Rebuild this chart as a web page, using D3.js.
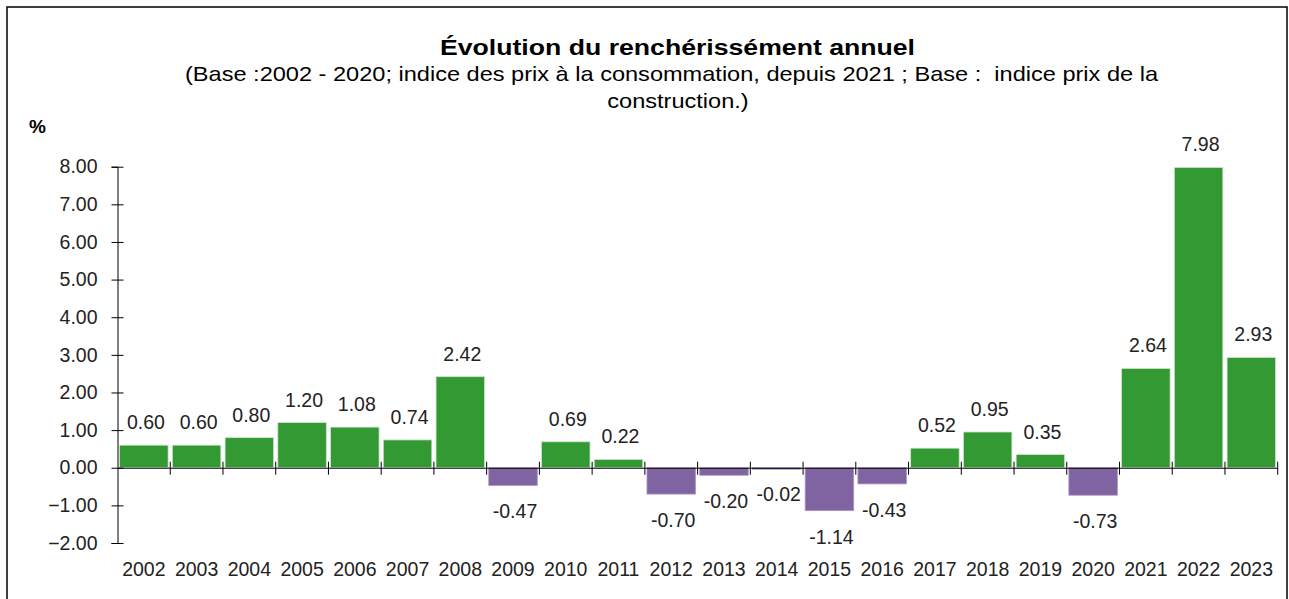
<!DOCTYPE html>
<html><head><meta charset="utf-8">
<script src="https://cdn.jsdelivr.net/npm/d3@7"></script>
<style>body{margin:0;background:#fff}svg{display:block}text{font-family:"Liberation Sans",Arial,sans-serif}</style>
</head><body><svg id="c" width="1289" height="599"></svg>
<script>
const years = ["2002","2003","2004","2005","2006","2007","2008","2009","2010","2011","2012","2013","2014","2015","2016","2017","2018","2019","2020","2021","2022","2023"];
const values = [0.60,0.60,0.80,1.20,1.08,0.74,2.42,-0.47,0.69,0.22,-0.70,-0.20,-0.02,-1.14,-0.43,0.52,0.95,0.35,-0.73,2.64,7.98,2.93];
const yTicks = [-2,-1,0,1,2,3,4,5,6,7,8];
const title = "Évolution du renchérissément annuel";
const subtitle = ["(Base :2002 - 2020; indice des prix à la consommation, depuis 2021 ; Base :  indice prix de la","construction.)"];

const svg = d3.select("#c");
svg.append("rect").attr("x",7).attr("y",7).attr("width",1280).attr("height",620)
  .attr("fill","#fff").attr("stroke","#000").attr("stroke-width",1.5);

const x0 = 117.5, x1 = 1277.7;
const x = d3.scaleBand().domain(years).range([x0,x1]).paddingInner(0.08).paddingOuter(0.04);
const y = d3.scaleLinear().domain([-2,8]).range([543,166.7]);
const txt = "#222";

svg.append("text").attr("x",677.5).attr("y",55).attr("text-anchor","middle")
  .attr("font-weight","bold").attr("font-size",22.5).attr("fill","#000")
  .attr("textLength",475).attr("lengthAdjust","spacingAndGlyphs").text(title);
const sub1 = svg.append("text").attr("x",671.5).attr("y",81).attr("text-anchor","middle")
  .attr("font-size",21).attr("fill","#000").attr("xml:space","preserve").text(subtitle[0]);
const nat = sub1.node().getComputedTextLength();
const k = 973/nat;
sub1.attr("textLength",973).attr("lengthAdjust","spacingAndGlyphs");
const sub2 = svg.append("text").attr("x",678).attr("y",108).attr("text-anchor","middle")
  .attr("font-size",21).attr("fill","#000").text(subtitle[1]);
sub2.attr("textLength",sub2.node().getComputedTextLength()*k).attr("lengthAdjust","spacingAndGlyphs");
svg.append("text").attr("x",29).attr("y",133).attr("font-weight","bold").attr("font-size",19).attr("fill","#000").text("%");

// bars
svg.selectAll(".bar").data(years).join("rect")
  .attr("x",d=>x(d)).attr("width",x.bandwidth())
  .attr("y",(d,i)=>y(Math.max(0,values[i])))
  .attr("height",(d,i)=>Math.max(1.5,Math.abs(y(values[i])-y(0))))
  .attr("fill",(d,i)=>values[i]>=0?"#339933":"#8064A2")
  .attr("stroke",(d,i)=>values[i]>=0?"#cfe5cf":"#a996c4").attr("stroke-width",0.8);

// y axis
const ya = svg.append("g").attr("transform",`translate(${x0},0)`)
  .call(d3.axisLeft(y).tickValues(yTicks).tickFormat(d3.format(".2f")).tickSize(6).tickPadding(14));
ya.select(".domain").attr("stroke","#000");
ya.selectAll(".tick line").attr("x2",6).attr("x1",-6).attr("stroke","#000");
ya.selectAll("text").attr("font-size",19.5).attr("fill",txt).attr("font-family","'Liberation Sans',Arial,sans-serif");

// x axis line + ticks at band boundaries
const xa = svg.append("g").attr("transform",`translate(0,${y(0)})`)
  .call(d3.axisBottom(x).tickSize(0).tickPadding(0));
xa.select(".domain").attr("stroke","#000");
xa.selectAll(".tick text").attr("y",576-y(0)).attr("dy",null).attr("font-size",19.5).attr("fill",txt)
  .attr("font-family","'Liberation Sans',Arial,sans-serif");
const bounds = years.map((d,i)=>i===0?x0:x(d)-x.step()*x.paddingInner()/2).concat([x1]);
xa.selectAll(".bt").data(bounds.slice(1)).join("line")
  .attr("x1",d=>d).attr("x2",d=>d).attr("y1",-6).attr("y2",7).attr("stroke","#000");

// data labels
svg.selectAll(".lbl").data(years).join("text")
  .attr("x",d=>x(d)+x.bandwidth()/2+2)
  .attr("y",(d,i)=>values[i]>=0?y(values[i])-16:y(values[i])+33)
  .attr("text-anchor","middle").attr("font-size",19.5).attr("fill",txt)
  .text((d,i)=>values[i].toFixed(2));
</script></body></html>
